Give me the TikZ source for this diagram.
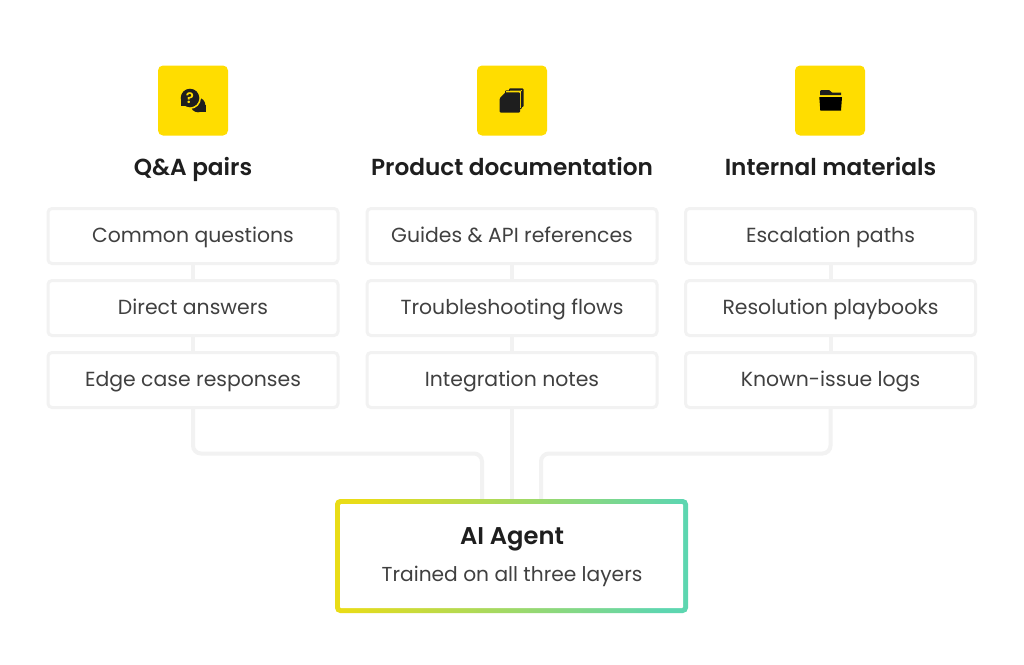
\documentclass[tikz,border=0pt]{standalone}
\usepackage{fontspec}
\setmainfont{Poppins}[BoldFont={* SemiBold}]
\usetikzlibrary{calc}
\definecolor{ybox}{HTML}{FFDD00}
\definecolor{ink}{HTML}{1E1E1E}
\definecolor{body}{HTML}{404040}
\definecolor{edge}{HTML}{F2F2F2}
\definecolor{gy}{HTML}{E9DC17}
\definecolor{gg}{HTML}{5DD6B0}
\tikzset{
 item/.style={draw=edge,line width=3pt,rounded corners=4pt,fill=white,minimum width=290pt,minimum height=55pt,outer sep=0pt,inner sep=0pt,text=body,font=\fontsize{20.4}{24}\selectfont,text height=15pt,text depth=3pt},
 conn/.style={draw=edge,line width=4pt,rounded corners=8pt},
 title/.style={text=ink,font=\fontsize{23.2}{26}\selectfont\bfseries,inner sep=0pt,text height=17pt,text depth=6pt},
 tile/.style={fill=ybox,rounded corners=5pt,minimum width=70pt,minimum height=70pt,inner sep=0pt,outer sep=0pt},
}
\begin{document}
\begin{tikzpicture}[x=1pt,y=-1pt]
\useasboundingbox (0,0) rectangle (1024,664);
\fill[white] (0,0) rectangle (1024,664);
% item boxes
\foreach \n/\x/\a/\b/\c in {q/193/Common questions/Direct answers/Edge case responses,
  p/512/Guides \& API references/Troubleshooting flows/Integration notes,
  m/830.5/Escalation paths/Resolution playbooks/Known-issue logs}{
  \node[item] (\n1) at (\x,236) {\a};
  \node[item] (\n2) at (\x,308) {\b};
  \node[item] (\n3) at (\x,380) {\c};
}
\node[minimum width=353pt,minimum height=114pt,inner sep=0pt,outer sep=0pt] (agent) at (511.5,556) {};
\coordinate (ql) at ($(agent.north)+(-29.5,2)$);
\coordinate (mr) at ($(agent.north)+(29.5,2)$);
\coordinate (cc) at ($(agent.north)+(0.5,2)$);
% connectors
\foreach \n in {q,p,m}{
  \draw[conn] (\n1.south) -- (\n2.north);
  \draw[conn] (\n2.south) -- (\n3.north);
}
\draw[conn] (q3.south) -- ++(0,46) -| (ql);
\draw[conn] (m3.south) -- ++(0,46) -| (mr);
\draw[conn] (p3.south) -- (cc);
% agent box
\shade[left color=gy,right color=gg,shading angle=80,rounded corners=5pt] (agent.south west) rectangle (agent.north east);
\fill[white,rounded corners=1pt] ($(agent.south west)+(5,-5)$) rectangle ($(agent.north east)+(-5,5)$);
\node[text=ink,font=\fontsize{24.2}{26}\selectfont\bfseries,inner sep=0pt,text height=17pt,text depth=6pt] (agentT) at (512,538.5) {AI Agent};
\node[text=body,font=\fontsize{20.2}{24}\selectfont,inner sep=0pt,text height=15pt,text depth=3pt] (agentS) at (512,575) {Trained on all three layers};
% tiles and titles
\node[tile] (t1) at (193,100.5) {};
\node[tile] (t2) at (512,100.5) {};
\node[tile] (t3) at (830,100.5) {};
\node[title] (h1) at (193,170) {Q\&A pairs};
\node[title] (h2) at (512,170) {Product documentation};
\node[title] (h3) at (830.5,170) {Internal materials};
% icon 1
\begin{scope}
 \fill[ink] (198,105) circle[radius=7.3];
 \fill[ink] (198,105) rectangle (205.7,112.3);
 \fill[ybox] (190,98) circle[radius=11];
 \fill[ink] (190,98) circle[radius=9.3];
 \fill[ink] (180.8,98) rectangle (190,106.2);
 \node[text=ybox,font=\fontsize{15}{15}\selectfont\bfseries,inner sep=0pt] (q) at (190,98) {?};
\end{scope}
% icon 2
\begin{scope}
 \fill[ink,rounded corners=1pt] (509,88.3) rectangle (523.5,107);
 \fill[ybox] (510.3,89.6) rectangle (522.2,105.7);
 \fill[ink,rounded corners=1pt] (505,90.4) rectangle (521.8,109);
 \fill[ybox] (506,91.4) rectangle (520.8,108);
 \fill[ink,rounded corners=1pt] (505.5,92.3) -- (520,92.3) -- (520,112.7) -- (499.7,112.7) -- (499.7,98.2) -- cycle;
\end{scope}
% icon 3
\begin{scope}
 \fill[ink] (820,95.2) -- (820,91.5) -- (821,90) -- (829,90) -- (832,92.5) -- (841,92.5) -- (841,95.2) -- cycle;
 \fill[black] (819.3,97) -- (842,97) -- (841,110.7) -- (820.3,110.7) -- cycle;
\end{scope}
\end{tikzpicture}
\end{document}
